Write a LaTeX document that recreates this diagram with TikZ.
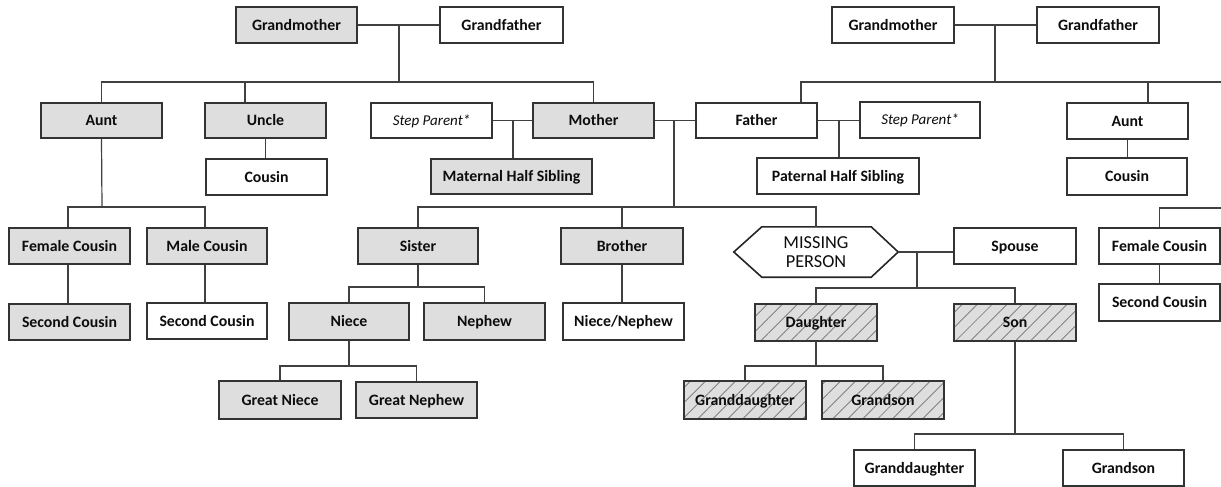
\documentclass[tikz,border=0pt]{standalone}
\usepackage{fontspec}
\setmainfont{Carlito}
\usetikzlibrary{patterns.meta}
\definecolor{boxgray}{HTML}{DEDEDE}
\definecolor{edgecol}{HTML}{333333}
\definecolor{conncol}{HTML}{404040}
\definecolor{hatchcol}{HTML}{707070}
\definecolor{ink}{HTML}{0D0D0D}
\tikzset{
  box/.style={draw=edgecol, line width=1.3pt, inner sep=0pt, text=ink,
    font=\fontsize{15.8}{18}\selectfont\bfseries, text height=10.2pt, text depth=0pt},
  grey/.style={box, fill=boxgray},
  plain/.style={box, fill=white},
  stepbox/.style={box, fill=white, font=\fontsize{15}{18}\selectfont\itshape, text height=9.7pt},
  hatched/.style={box, preaction={fill=boxgray},
    pattern={Lines[angle=45,distance=10.6pt,line width=0.7pt]}, pattern color=hatchcol},
  conn/.style={draw=conncol, line width=1.2pt},
}
\newcommand\mybox[7]{\node[#1, minimum width={#4-#2}, minimum height={#5-#3}] (#6) at ({(#2+#4)/2},{(#3+#5)/2}) {#7};}
\begin{document}
\begin{tikzpicture}[x=1pt,y=-1pt]
\useasboundingbox (0,0) rectangle (1221,487);
% grandparents
\mybox{grey}{236}{7}{357}{43}{gmL}{Grandmother}
\mybox{plain}{440}{7}{563}{43}{gfL}{Grandfather}
\mybox{plain}{832}{7}{954}{43}{gmR}{Grandmother}
\mybox{plain}{1037}{7}{1159}{43}{gfR}{Grandfather}
% parents' generation
\mybox{grey}{41}{103}{162}{138}{auntL}{Aunt}
\mybox{grey}{205}{103}{326}{138}{uncle}{Uncle}
\mybox{stepbox}{371}{103}{492}{138}{stepL}{Step Parent*}
\mybox{grey}{533}{103}{654}{138}{mother}{Mother}
\mybox{plain}{696}{103}{817}{138}{father}{Father}
\mybox{stepbox}{860}{102}{980}{138}{stepR}{Step Parent*}
\mybox{plain}{1067}{103}{1188}{139}{auntR}{Aunt}
% row 3
\mybox{plain}{206}{159}{327}{195}{cousinU}{Cousin}
\mybox{grey}{431}{159}{592}{194}{matHalf}{Maternal Half Sibling}
\mybox{plain}{757}{158}{919}{194}{patHalf}{Paternal Half Sibling}
\mybox{plain}{1067}{158}{1187}{195}{cousinR}{Cousin}
% row 4
\mybox{grey}{9}{228}{130}{264}{femCL}{Female Cousin}
\mybox{grey}{147}{228}{267}{264}{maleC}{Male Cousin}
\mybox{grey}{358}{228}{478}{264}{sister}{Sister}
\mybox{grey}{561}{228}{683}{264}{brother}{Brother}
\mybox{plain}{954}{228}{1076}{264}{spouse}{Spouse}
\mybox{plain}{1099}{228}{1220}{264}{femCR}{Female Cousin}
\node[inner sep=0pt, minimum width=164pt, minimum height=50pt, align=center,
  font=\fontsize{18.3}{19}\selectfont, text=ink] (missing) at (816,252) {MISSING\\PERSON};
\draw[draw=black!85, line width=1.6pt] (missing.west) -- ([xshift=28pt]missing.north west)
  -- ([xshift=-27pt]missing.north east) -- (missing.east) -- ([xshift=-27pt]missing.south east)
  -- ([xshift=28pt]missing.south west) -- cycle;
% row 5
\mybox{grey}{9}{304}{130}{340}{secCL}{Second Cousin}
\mybox{plain}{147}{303}{267}{339}{secCM}{Second Cousin}
\mybox{grey}{289}{303}{409}{340}{niece}{Niece}
\mybox{grey}{424}{303}{545}{340}{nephew}{Nephew}
\mybox{plain}{563}{303}{684}{340}{nieceNephew}{Niece/Nephew}
\mybox{hatched}{755}{304}{877}{341}{daughter}{Daughter}
\mybox{hatched}{954}{304}{1076}{341}{son}{Son}
\mybox{plain}{1099}{284}{1220}{321}{secCR}{Second Cousin}
% row 6
\mybox{grey}{219}{381}{341}{419}{gNiece}{Great Niece}
\mybox{grey}{356}{382}{477}{418}{gNephew}{Great Nephew}
\mybox{hatched}{684}{381}{806}{419}{gdH}{Granddaughter}
\mybox{hatched}{822}{381}{944}{419}{gsH}{Grandson}
% row 7
\mybox{plain}{854}{450}{975}{486}{gd}{Granddaughter}
\mybox{plain}{1063}{450}{1184}{486}{gs}{Grandson}

% junction coordinates
\coordinate (jGL) at (399,25);
\coordinate (bGL) at (399,82);
\coordinate (uA) at (245,82);
\coordinate (jSM) at (513,120.5);
\coordinate (bAL) at (102,207);
\coordinate (cF) at (68,207);
\coordinate (cM) at (205,207);
\coordinate (jMF) at (674,120.5);
\coordinate (bMF) at (674,207);
\coordinate (bS) at (418,287);
\coordinate (bN) at (349,366);
\coordinate (jFS) at (839,120.5);
\coordinate (jGR) at (995,25);
\coordinate (bGR) at (995,82);
\coordinate (fA) at (801,82);
\coordinate (eR) at (1221,82);
\coordinate (aR) at (1148,82);
\coordinate (eF) at (1221,208);
\coordinate (jMS) at (917,252);
\coordinate (bMS) at (917,288);
\coordinate (bD) at (816,366);
\coordinate (bSo) at (1015,434);

% left grandparents
\draw[conn] (gmL) -- (gfL);
\draw[conn] (jGL) -- (bGL);
\draw[conn] (auntL.north) |- (bGL) -| (mother.north);
\draw[conn] (uA) -- (uA |- uncle.north);
\draw[conn] (uncle.south) -- (uncle.south |- cousinU.north);
\draw[conn] (stepL) -- (mother);
\draw[conn] (jSM) -- (jSM |- matHalf.north);
\draw[conn] (auntL.south) -- (bAL);
\draw[conn] (cF |- femCL.north) -- (cF) -- (cM) -- (cM |- maleC.north);
\draw[conn] (cF |- femCL.south) -- (cF |- secCL.north);
\draw[conn] (cM |- maleC.south) -- (cM |- secCM.north);
% parents
\draw[conn] (mother) -- (father);
\draw[conn] (jMF) -- (bMF);
\draw[conn] (sister.north) |- (bMF) -| (missing.north);
\draw[conn] (brother.north |- bMF) -- (brother.north);
\draw[conn] (brother.south) -- (brother.south |- nieceNephew.north);
\draw[conn] (sister.south) -- (bS);
\draw[conn] (niece.north) |- (bS) -| (nephew.north);
\draw[conn] (niece.south) -- (bN);
\draw[conn] (gNiece.north) |- (bN) -| (gNephew.north);
% father side
\draw[conn] (father) -- (stepR.west |- father.east);
\draw[conn] (jFS) -- (jFS |- patHalf.north);
\draw[conn] (gmR) -- (gfR);
\draw[conn] (jGR) -- (bGR);
\draw[conn] (fA |- father.north) -- (fA) -- (eR);
\draw[conn] (aR) -- (aR |- auntR.north);
\draw[conn] (auntR.south) -- (auntR.south |- cousinR.north);
\draw[conn] (eF) -| (femCR.north);
\draw[conn] (femCR.south) -- (femCR.south |- secCR.north);
% missing person
\draw[conn] (missing.east) -- (missing.east -| spouse.west);
\draw[conn] (jMS) -- (bMS);
\draw[conn] (daughter.north) |- (bMS) -| (son.north);
\draw[conn] (daughter.south) -- (bD);
\draw[conn] (gdH.north) |- (bD) -| (gsH.north);
\draw[conn] (son.south) -- (bSo);
\draw[conn] (gd.north) |- (bSo) -| (gs.north);
\end{tikzpicture}
\end{document}
